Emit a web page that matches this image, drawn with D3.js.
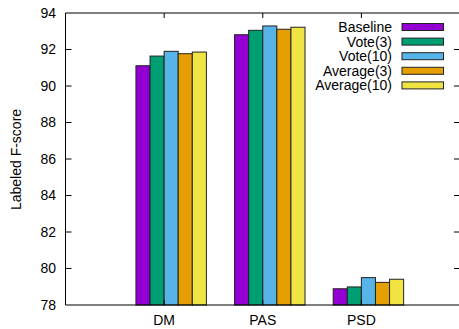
<!DOCTYPE html>
<html>
<head>
<meta charset="utf-8">
<script src="https://cdn.jsdelivr.net/npm/d3@7"></script>
<style>
  body { margin: 0; background: #fff; }
  text { font-family: "Liberation Sans", Arial, sans-serif; font-size: 14px; fill: #000; }
</style>
</head>
<body>
<svg id="chart"></svg>
<script>
// data
const categories = ["DM", "PAS", "PSD"];
const series = ["Baseline", "Vote(3)", "Vote(10)", "Average(3)", "Average(10)"];
const colors = ["#9400d3", "#009e73", "#56b4e9", "#e69f00", "#f0e442"];
const baseline = [91.11, 92.81, 78.89];
const vote3 = [91.64, 93.05, 78.99];
const vote10 = [91.90, 93.29, 79.50];
const average3 = [91.77, 93.11, 79.24];
const average10 = [91.86, 93.22, 79.41];
const yTicks = [78, 80, 82, 84, 86, 88, 90, 92, 94];

const values = [baseline, vote3, vote10, average3, average10];

const width = 459, height = 329;
const margin = { top: 13, left: 65.5, bottom: 305, right: 460 };

const svg = d3.select("#chart").attr("width", width).attr("height", height);

const x = d3.scaleLinear().domain([-1, 3]).range([margin.left, margin.right]);
const y = d3.scaleLinear().domain([78, 94]).range([margin.bottom, margin.top]);

// gnuplot style clustered histogram: 5 series, gap 2
const boxW = 1 / 7;

const bars = [];
values.forEach((vals, j) => {
    vals.forEach((v, i) => {
        bars.push({ i, j, v });
    });
});

svg.append("g").selectAll("rect")
    .data(bars)
    .join("rect")
    .attr("x", d => x(d.i + (d.j - 1.5) * boxW - boxW / 2))
    .attr("width", x(boxW) - x(0))
    .attr("y", d => y(d.v))
    .attr("height", d => y(78) - y(d.v))
    .attr("fill", d => colors[d.j])
    .attr("stroke", "#222")
    .attr("stroke-width", 1);

// frame
const frame = svg.append("g").attr("stroke", "#000").attr("stroke-width", 1).attr("fill", "none");
frame.append("path")
    .attr("d", `M${margin.right},${y(94)}H${margin.left}V${y(78)}H${margin.right}`);

// y ticks, left and right (inward)
frame.selectAll(".yl")
    .data(yTicks.slice(1, -1))
    .join("line")
    .attr("x1", margin.left).attr("x2", margin.left + 6)
    .attr("y1", d => y(d)).attr("y2", d => y(d));
frame.selectAll(".yr")
    .data(yTicks.slice(1, -1))
    .join("line")
    .attr("class", "yr")
    .attr("x1", margin.right).attr("x2", margin.right - 6)
    .attr("y1", d => y(d)).attr("y2", d => y(d));

// x ticks top and bottom
frame.selectAll(".xt")
    .data(categories.map((c, i) => i))
    .join("line")
    .attr("class", "xt")
    .attr("x1", d => x(d)).attr("x2", d => x(d))
    .attr("y1", y(94)).attr("y2", y(94) + 5);
frame.selectAll(".xb")
    .data(categories.map((c, i) => i))
    .join("line")
    .attr("class", "xb")
    .attr("x1", d => x(d)).attr("x2", d => x(d))
    .attr("y1", y(78)).attr("y2", y(78) - 5);

// tick labels
svg.append("g").selectAll("text")
    .data(yTicks)
    .join("text")
    .attr("x", 56)
    .attr("y", d => y(d))
    .attr("dy", "0.35em")
    .attr("text-anchor", "end")
    .text(d => d);

svg.append("g").selectAll("text")
    .data(categories)
    .join("text")
    .attr("x", (d, i) => x(i))
    .attr("y", 325)
    .attr("text-anchor", "middle")
    .text(d => d);

svg.append("text")
    .attr("transform", "translate(21,159.5) rotate(-90)")
    .attr("text-anchor", "middle")
    .text("Labeled F-score");

// legend
const legend = svg.append("g")
    .selectAll("g")
    .data(series)
    .join("g")
    .attr("transform", (d, j) => `translate(0, ${27 + j * 14.6})`);

legend.append("text")
    .attr("x", 392)
    .attr("dy", "0.35em")
    .attr("text-anchor", "end")
    .text(d => d);

legend.append("rect")
    .attr("x", 402)
    .attr("y", -3.5)
    .attr("width", 41.5)
    .attr("height", 7)
    .attr("fill", (d, j) => colors[j])
    .attr("stroke", "#222");
</script>
</body>
</html>
